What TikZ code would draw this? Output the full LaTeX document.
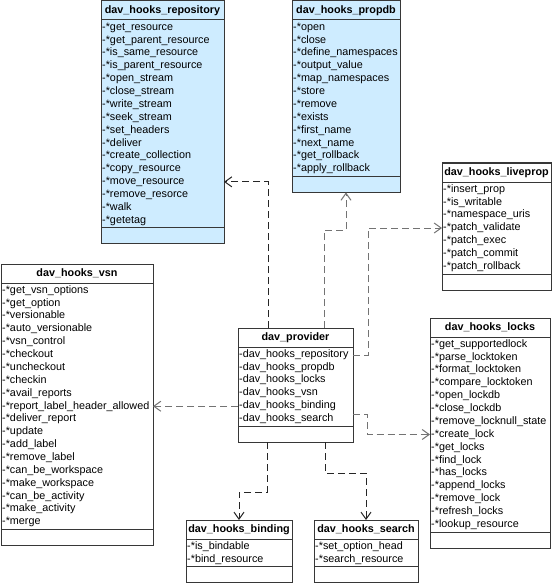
\documentclass[tikz,border=0pt]{standalone}
\usepackage{fontspec}
\setmainfont{Liberation Sans}
\usetikzlibrary{arrows.meta}
\definecolor{hookblue}{RGB}{206,236,255}
\definecolor{boxline}{RGB}{55,55,55}
\tikzset{
 classbox/.style={draw=boxline, line width=1pt, inner sep=0pt, outer sep=0pt},
 classsep/.style={draw=boxline, line width=1pt},
 classtitle/.style={font=\fontsize{10.8}{12}\selectfont\bfseries, inner sep=0pt, text height=7.8pt, text depth=2.2pt},
 classitem/.style={font=\fontsize{10.8}{12}\selectfont, inner sep=0pt, text height=7.8pt, text depth=2.2pt, anchor=west},
 dep/.style={draw=black!85, line width=1pt, dash pattern=on 7pt off 4pt, -{Straight Barb[length=7pt,width=10pt]}},
 depgray/.style={dep, draw=black!55},
}
\newcommand\umlclass[8]{%
 \pgfmathsetmacro\clsh{37+#5*12.87}%
 \pgfmathsetmacro\clss{21+#5*12.87}%
 \node[classbox, fill=#6, minimum width=#4pt, minimum height=\clsh pt, anchor=north west] (#1) at (#2,#3) {};
 \draw[classsep] ([yshift=-19pt]#1.north west) -- ([yshift=-19pt]#1.north east);
 \draw[classsep] ([yshift=-\clss pt]#1.north west) -- ([yshift=-\clss pt]#1.north east);
 \node[classtitle] (#1-t) at ([yshift=-10pt]#1.north) {#7};
 \foreach \lab [count=\i] in {#8} {%
   \pgfmathsetmacro\clsy{26.4+(\i-1)*12.87}%
   \node[classitem] (#1-\i) at ([xshift=1pt,yshift=-\clsy pt]#1.north west) {\lab};
 }%
}
\begin{document}
\catcode`\_=12
\begin{tikzpicture}[x=1pt,y=-1pt]
\useasboundingbox[fill=white] (0,0) rectangle (554,588);

\umlclass{repo}{101}{1}{123}{16}{hookblue}{dav_hooks_repository}{-*get_resource,-*get_parent_resource,-*is_same_resource,-*is_parent_resource,-*open_stream,-*close_stream,-*write_stream,-*seek_stream,-*set_headers,-*deliver,-*create_collection,-*copy_resource,-*move_resource,-*remove_resorce,-*walk,-*getetag}

\umlclass{propdb}{292}{1}{108}{12}{hookblue}{dav_hooks_propdb}{-*open,-*close,-*define_namespaces,-*output_value,-*map_namespaces,-*store,-*remove,-*exists,-*first_name,-*next_name,-*get_rollback,-*apply_rollback}

\umlclass{live}{442}{163}{109}{7}{white}{dav_hooks_liveprop}{-*insert_prop,-*is_writable,-*namespace_uris,-*patch_validate,-*patch_exec,-*patch_commit,-*patch_rollback}

\umlclass{vsn}{1}{264}{152}{19}{white}{dav_hooks_vsn}{-*get_vsn_options,-*get_option,-*versionable,-*auto_versionable,-*vsn_control,-*checkout,-*uncheckout,-*checkin,-*avail_reports,-*report_label_header_allowed,-*deliver_report,-*update,-*add_label,-*remove_label,-*can_be_workspace,-*make_workspace,-*can_be_activity,-*make_activity,-*merge}

\umlclass{prov}{238}{328}{115}{6}{white}{dav_provider}{-dav_hooks_repository,-dav_hooks_propdb,-dav_hooks_locks,-dav_hooks_vsn,-dav_hooks_binding,-dav_hooks_search}

\umlclass{locks}{430}{318}{120}{15}{white}{dav_hooks_locks}{-*get_supportedlock,-*parse_locktoken,-*format_locktoken,-*compare_locktoken,-*open_lockdb,-*close_lockdb,-*remove_locknull_state,-*create_lock,-*get_locks,-*find_lock,-*has_locks,-*append_locks,-*remove_lock,-*refresh_locks,-*lookup_resource}

\umlclass{bind}{186}{520}{106}{2}{white}{dav_hooks_binding}{-*is_bindable,-*bind_resource}

\umlclass{search}{314}{520}{104}{2}{white}{dav_hooks_search}{-*set_option_head,-*search_resource}

% connectors
\draw[dep] ([xshift=30pt]prov.north west) |- (repo.east |- repo-13);
\draw[depgray] ([xshift=86pt]prov.north west) -- ++(0,-98) -| (propdb.south);
\draw[depgray] ([yshift=-27pt]prov.north east) -- ++(15,0) |- (live.west |- live-4);
\draw[depgray] ([yshift=-86pt]prov.north east) -- ++(14,0) |- (locks.west |- locks-8);
\draw[depgray] (prov.west |- vsn-10) -- (vsn.east |- vsn-10);
\draw[dep] ([xshift=29pt]prov.south west) -- ++(0,50) -| (bind.north);
\draw[dep] ([xshift=87pt]prov.south west) -- ++(0,31) -| (search.north);
\end{tikzpicture}
\end{document}
